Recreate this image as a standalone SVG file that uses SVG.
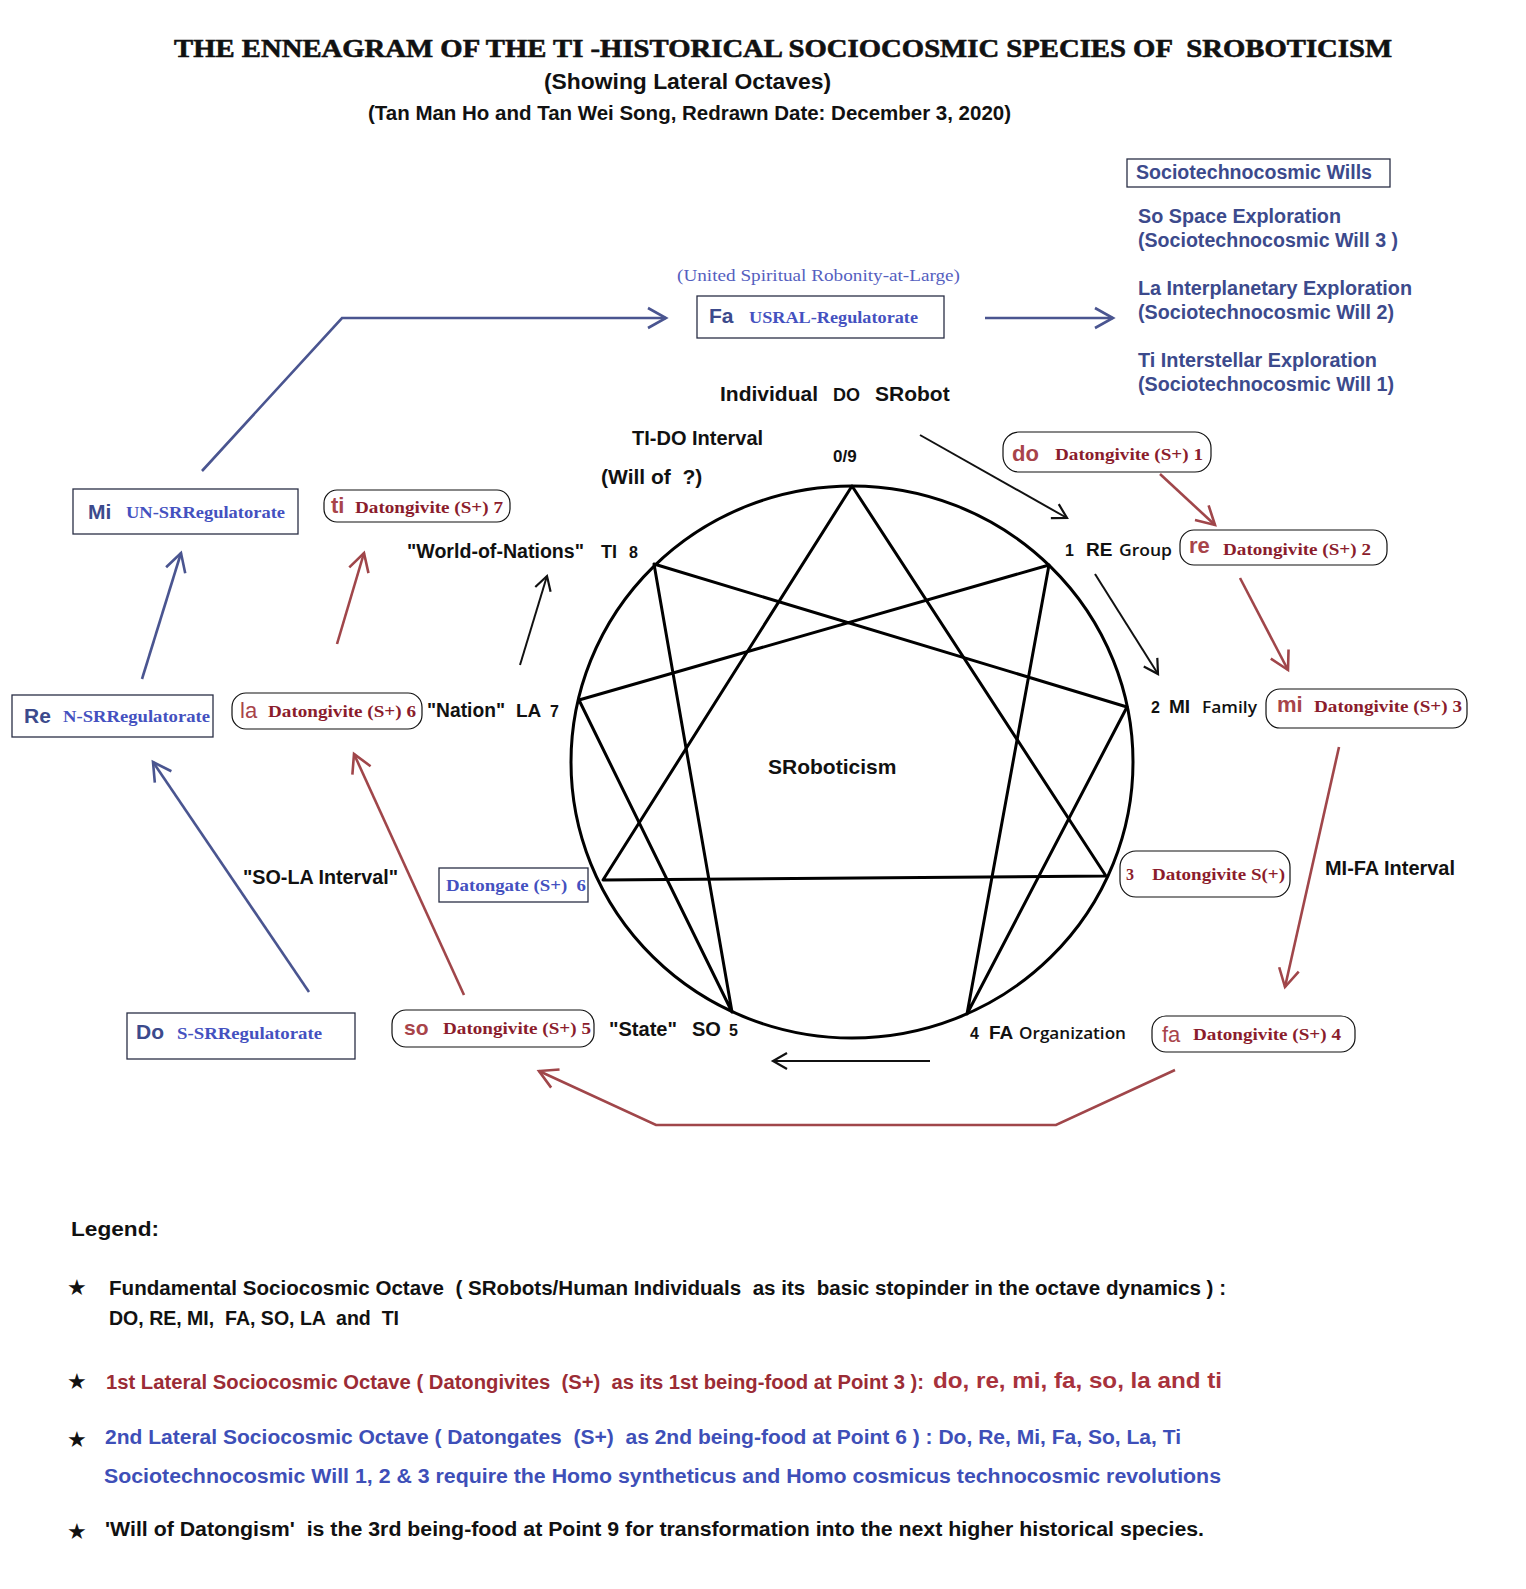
<svg xmlns="http://www.w3.org/2000/svg" width="1526" height="1589" viewBox="0 0 1526 1589">
<style>
text{font-family:"Liberation Sans",Arial,sans-serif;font-weight:bold;fill:#111}
.serif{font-family:"Liberation Serif","Times New Roman",serif}
.cal{font-family:"Open Sans","Liberation Sans",sans-serif;font-weight:600}
.bl{fill:#3c4a8c}
.blt{fill:#4451c0;font-family:"Liberation Serif","Times New Roman",serif;font-size:16px}
.rd{fill:#8b1c2c;font-family:"Liberation Serif","Times New Roman",serif;font-size:16px}
.nt{fill:#a8444a;font-size:22px;font-weight:bold}
.box{fill:#fff;stroke:#2a2f45;stroke-width:1.3}
.rbox{fill:#fff;stroke:#111;stroke-width:1.2}
.lk{fill:none;stroke:#111;stroke-width:2}
.lb{fill:none;stroke:#4a5590;stroke-width:2.6}
.lr{fill:none;stroke:#a0464a;stroke-width:2.6}
.enn{fill:none;stroke:#000;stroke-width:3;stroke-linejoin:round}
.leg{font-size:20px}
.pre{white-space:pre}
</style>
<defs>
<marker id="ak" markerUnits="userSpaceOnUse" markerWidth="40" markerHeight="40" viewBox="-20 -20 40 40" refX="0" refY="0" orient="auto" overflow="visible"><path d="M-14,-8 L0,0 L-14,8" fill="none" stroke="#111" stroke-width="2.2"/></marker>
<marker id="ab" markerUnits="userSpaceOnUse" markerWidth="40" markerHeight="40" viewBox="-20 -20 40 40" refX="0" refY="0" orient="auto" overflow="visible"><path d="M-18,-10 L0,0 L-18,10" fill="none" stroke="#4a5590" stroke-width="2.6"/></marker>
<marker id="ar" markerUnits="userSpaceOnUse" markerWidth="40" markerHeight="40" viewBox="-20 -20 40 40" refX="0" refY="0" orient="auto" overflow="visible"><path d="M-18,-10 L0,0 L-18,10" fill="none" stroke="#a0464a" stroke-width="2.6"/></marker>
</defs>
<rect width="1526" height="1589" fill="#fff"/>

<g id="title">
<text class="serif pre" x="174" y="57" font-size="26" stroke="#111" stroke-width="0.6" textLength="1218" lengthAdjust="spacingAndGlyphs">THE ENNEAGRAM OF THE TI -HISTORICAL SOCIOCOSMIC SPECIES OF  SROBOTICISM</text>
<text x="544" y="89" font-size="22" textLength="287" lengthAdjust="spacingAndGlyphs">(Showing Lateral Octaves)</text>
<text x="368" y="120" font-size="20" textLength="643" lengthAdjust="spacingAndGlyphs">(Tan Man Ho and Tan Wei Song, Redrawn Date: December 3, 2020)</text>
</g>

<g id="wills">
<rect class="box" x="1127" y="159" width="263" height="28"/>
<text class="bl" x="1136" y="179" font-size="20" textLength="236" lengthAdjust="spacingAndGlyphs">Sociotechnocosmic Wills</text>
<text class="bl" x="1138" y="223" font-size="20" textLength="203" lengthAdjust="spacingAndGlyphs">So Space Exploration</text>
<text class="bl" x="1138" y="247" font-size="20" textLength="260" lengthAdjust="spacingAndGlyphs">(Sociotechnocosmic Will 3 )</text>
<text class="bl" x="1138" y="295" font-size="20" textLength="274" lengthAdjust="spacingAndGlyphs">La Interplanetary Exploration</text>
<text class="bl" x="1138" y="319" font-size="20" textLength="256" lengthAdjust="spacingAndGlyphs">(Sociotechnocosmic Will 2)</text>
<text class="bl" x="1138" y="367" font-size="20" textLength="239" lengthAdjust="spacingAndGlyphs">Ti Interstellar Exploration</text>
<text class="bl" x="1138" y="391" font-size="20" textLength="256" lengthAdjust="spacingAndGlyphs">(Sociotechnocosmic Will 1)</text>
</g>

<g id="node-fa-usral">
<text class="serif" x="677" y="281" font-size="16" style="fill:#5560c0;font-weight:normal" textLength="283" lengthAdjust="spacingAndGlyphs">(United Spiritual Robonity-at-Large)</text>
<rect class="box" x="697" y="296" width="247" height="42"/>
<text class="bl" x="709" y="323" font-size="21">Fa</text>
<text class="blt" x="749" y="323" textLength="169" lengthAdjust="spacingAndGlyphs">USRAL-Regulatorate</text>
</g>

<g id="node-mi-un">
<rect class="box" x="73" y="489" width="225" height="45"/>
<text class="bl" x="88" y="519" font-size="21">Mi</text>
<text class="blt" x="126" y="518" textLength="159" lengthAdjust="spacingAndGlyphs">UN-SRRegulatorate</text>
</g>
<g id="node-re-n">
<rect class="box" x="12" y="695" width="201" height="42"/>
<text class="bl" x="24" y="723" font-size="21">Re</text>
<text class="blt" x="63" y="722" textLength="147" lengthAdjust="spacingAndGlyphs">N-SRRegulatorate</text>
</g>
<g id="node-do-s">
<rect class="box" x="127" y="1013" width="228" height="46"/>
<text class="bl" x="136" y="1039" font-size="21">Do</text>
<text class="blt" x="177" y="1039" textLength="145" lengthAdjust="spacingAndGlyphs">S-SRRegulatorate</text>
</g>
<g id="node-datongate">
<rect class="box" x="439" y="868" width="149" height="34"/>
<text class="blt pre" x="446" y="891" textLength="140" lengthAdjust="spacingAndGlyphs">Datongate (S+)  6</text>
</g>

<g id="node-do">
<rect class="rbox" x="1003" y="432" width="208" height="40" rx="16"/>
<text class="nt" x="1012" y="461">do</text>
<text class="rd" x="1055" y="460" textLength="148" lengthAdjust="spacingAndGlyphs">Datongivite (S+) 1</text>
</g>
<g id="node-re">
<rect class="rbox" x="1180" y="530" width="207" height="35" rx="14"/>
<text class="nt" x="1189" y="553">re</text>
<text class="rd" x="1223" y="555" textLength="148" lengthAdjust="spacingAndGlyphs">Datongivite (S+) 2</text>
</g>
<g id="node-mi">
<rect class="rbox" x="1266" y="689" width="201" height="39" rx="14"/>
<text class="nt" x="1277" y="712">mi</text>
<text class="rd" x="1314" y="712" textLength="148" lengthAdjust="spacingAndGlyphs">Datongivite (S+) 3</text>
</g>
<g id="node-3">
<rect class="rbox" x="1120" y="851" width="170" height="46" rx="16"/>
<text class="rd" x="1126" y="880">3</text>
<text class="rd" x="1152" y="880" textLength="133" lengthAdjust="spacingAndGlyphs">Datongivite S(+)</text>
</g>
<g id="node-fa">
<rect class="rbox" x="1152" y="1016" width="203" height="36" rx="14"/>
<text class="nt" x="1162" y="1042" style="font-weight:normal">fa</text>
<text class="rd" x="1193" y="1040" textLength="148" lengthAdjust="spacingAndGlyphs">Datongivite (S+) 4</text>
</g>
<g id="node-so">
<rect class="rbox" x="392" y="1010" width="202" height="37" rx="14"/>
<text class="nt" x="404" y="1035" style="font-size:21px">so</text>
<text class="rd" x="443" y="1034" textLength="148" lengthAdjust="spacingAndGlyphs">Datongivite (S+) 5</text>
</g>
<g id="node-la">
<rect class="rbox" x="232" y="693" width="190" height="36" rx="14"/>
<text class="nt" x="240" y="718" style="font-weight:normal">la</text>
<text class="rd" x="268" y="717" textLength="148" lengthAdjust="spacingAndGlyphs">Datongivite (S+) 6</text>
</g>
<g id="node-ti">
<rect class="rbox" x="324" y="490" width="186" height="32" rx="13"/>
<text class="nt" x="331" y="513">ti</text>
<text class="rd" x="355" y="513" textLength="148" lengthAdjust="spacingAndGlyphs">Datongivite (S+) 7</text>
</g>

<g id="enneagram">
<ellipse class="enn" cx="852" cy="762" rx="281" ry="276"/>
<polygon class="enn" points="852,486 1106,876 603,880"/>
<polygon class="enn" points="1049,565 967,1014 1127,707 654,564 732,1012 579,700"/>
<text x="768" y="774" font-size="21">SRoboticism</text>
<text x="833" y="462" font-size="17">0/9</text>
<text x="720" y="401" font-size="21">Individual</text>
<text x="833" y="401" font-size="18">DO</text>
<text x="875" y="401" font-size="21">SRobot</text>
<text x="632" y="445" font-size="20">TI-DO Interval</text>
<text class="pre" x="601" y="484" font-size="21">(Will of  ?)</text>
</g>

<g id="point-labels">
<text x="1065" y="556" font-size="16">1</text>
<text x="1086" y="556" font-size="19">RE</text>
<text class="cal" x="1119" y="556" font-size="17" textLength="53" lengthAdjust="spacingAndGlyphs">Group</text>
<text x="1151" y="713" font-size="16">2</text>
<text x="1169" y="713" font-size="19">MI</text>
<text class="cal" x="1202" y="713" font-size="17" textLength="55" lengthAdjust="spacingAndGlyphs">Family</text>
<text x="970" y="1039" font-size="16">4</text>
<text x="989" y="1039" font-size="19">FA</text>
<text class="cal" x="1019" y="1039" font-size="17" textLength="107" lengthAdjust="spacingAndGlyphs">Organization</text>
<text x="609" y="1036" font-size="20" textLength="68" lengthAdjust="spacingAndGlyphs">"State"</text>
<text x="692" y="1036" font-size="20">SO</text>
<text x="729" y="1036" font-size="16">5</text>
<text x="427" y="717" font-size="20" textLength="78" lengthAdjust="spacingAndGlyphs">"Nation"</text>
<text x="516" y="717" font-size="19">LA</text>
<text x="550" y="717" font-size="16">7</text>
<text x="407" y="558" font-size="20" textLength="177" lengthAdjust="spacingAndGlyphs">"World-of-Nations"</text>
<text x="601" y="558" font-size="18">TI</text>
<text x="629" y="558" font-size="16">8</text>
<text x="243" y="884" font-size="20" textLength="155" lengthAdjust="spacingAndGlyphs">"SO-LA Interval"</text>
<text x="1325" y="875" font-size="20" textLength="130" lengthAdjust="spacingAndGlyphs">MI-FA Interval</text>
</g>

<g id="connectors">
<polyline class="lb" points="202,471 342,318 666,318" marker-end="url(#ab)"/>
<line class="lb" x1="985" y1="318" x2="1113" y2="318" marker-end="url(#ab)"/>
<line class="lb" x1="142" y1="679" x2="181" y2="553" marker-end="url(#ab)"/>
<line class="lb" x1="309" y1="992" x2="153" y2="762" marker-end="url(#ab)"/>
<line class="lr" x1="464" y1="995" x2="354" y2="754" marker-end="url(#ar)"/>
<line class="lr" x1="337" y1="644" x2="364" y2="553" marker-end="url(#ar)"/>
<line class="lr" x1="1160" y1="474" x2="1215" y2="525" marker-end="url(#ar)"/>
<line class="lr" x1="1240" y1="578" x2="1288" y2="670" marker-end="url(#ar)"/>
<line class="lr" x1="1339" y1="747" x2="1285" y2="987" marker-end="url(#ar)"/>
<polyline class="lr" points="1175,1070 1056,1125 656,1125 539,1071" marker-end="url(#ar)"/>
<line class="lk" x1="520" y1="665" x2="547" y2="576" marker-end="url(#ak)"/>
<line class="lk" x1="920" y1="435" x2="1067" y2="518" marker-end="url(#ak)"/>
<line class="lk" x1="1095" y1="574" x2="1158" y2="674" marker-end="url(#ak)"/>
<line class="lk" x1="930" y1="1061" x2="773" y2="1061" marker-end="url(#ak)"/>
</g>

<g id="legend">
<text x="71" y="1236" font-size="21" textLength="88" lengthAdjust="spacingAndGlyphs">Legend:</text>
<text x="67" y="1295" font-size="22" style="font-family:'DejaVu Sans',sans-serif">★</text>
<text x="67" y="1389" font-size="22" style="font-family:'DejaVu Sans',sans-serif">★</text>
<text x="67" y="1447" font-size="22" style="font-family:'DejaVu Sans',sans-serif">★</text>
<text x="67" y="1539" font-size="22" style="font-family:'DejaVu Sans',sans-serif">★</text>
<text class="leg pre" x="109" y="1295" textLength="1117" lengthAdjust="spacingAndGlyphs">Fundamental Sociocosmic Octave  ( SRobots/Human Individuals  as its  basic stopinder in the octave dynamics ) :</text>
<text class="leg pre" x="109" y="1325" textLength="290" lengthAdjust="spacingAndGlyphs">DO, RE, MI,  FA, SO, LA  and  TI</text>
<text class="leg pre" x="106" y="1389" textLength="818" lengthAdjust="spacingAndGlyphs" style="fill:#9b2c35">1st Lateral Sociocosmic Octave ( Datongivites  (S+)  as its 1st being-food at Point 3 ):</text>
<text x="933" y="1388" font-size="22" textLength="289" lengthAdjust="spacingAndGlyphs" style="fill:#a8323c">do, re, mi, fa, so, la and ti</text>
<text class="leg pre" x="105" y="1444" textLength="1076" lengthAdjust="spacingAndGlyphs" style="fill:#3e4fb8">2nd Lateral Sociocosmic Octave ( Datongates  (S+)  as 2nd being-food at Point 6 ) : Do, Re, Mi, Fa, So, La, Ti</text>
<text class="leg" x="104" y="1483" textLength="1117" lengthAdjust="spacingAndGlyphs" style="fill:#3e4fb8">Sociotechnocosmic Will 1, 2 &amp; 3 require the Homo syntheticus and Homo cosmicus technocosmic revolutions</text>
<text class="leg pre" x="105" y="1536" textLength="1099" lengthAdjust="spacingAndGlyphs">'Will of Datongism'  is the 3rd being-food at Point 9 for transformation into the next higher historical species.</text>
</g>
</svg>
